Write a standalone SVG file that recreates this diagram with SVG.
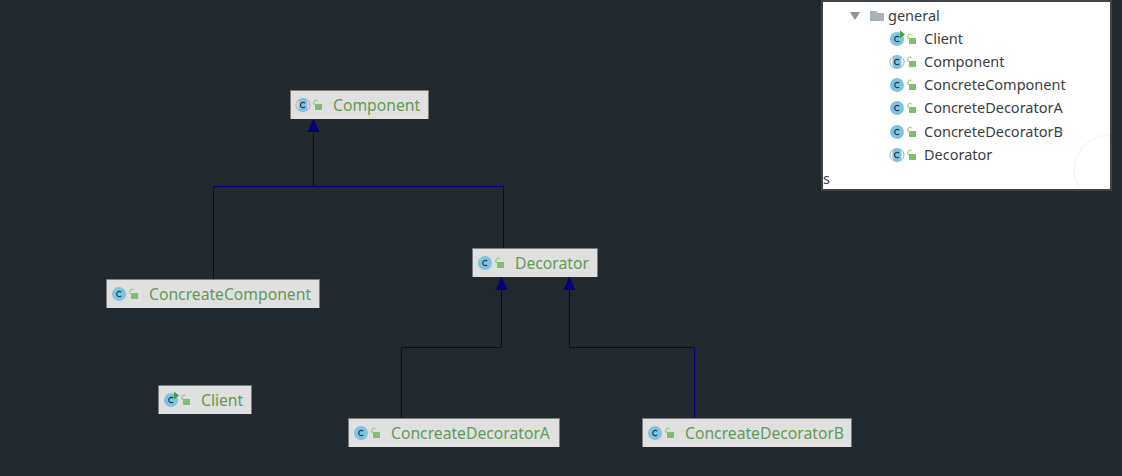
<svg xmlns="http://www.w3.org/2000/svg" width="1122" height="476" viewBox="0 0 1122 476">
<style>
.fillb{fill:#e0e0e0}
.edge{fill:none;stroke:#7b7d7e;stroke-width:1}
.lbl{font-family:"Noto Sans","Open Sans",sans-serif;font-size:15.7px;fill:#649a58}
.tree{font-family:"Noto Sans","Open Sans",sans-serif;font-size:14.5px;fill:#3c4043}
.conn{fill:none;stroke:#00007f;stroke-width:1}
.tip{fill:#00007f}
</style>
<defs>
<g id="ic">
<circle cx="7" cy="7" r="7" fill="#7cc4e2"/>
<path d="M9.200 5.200A2.600 2.600 0 1 0 9.200 8.800" fill="none" stroke="#2b3a44" stroke-width="1.200"/>
<path d="M18 7V3.800a1.900 1.900 0 0 1 3.600-.6" fill="none" stroke="#7fbf70" stroke-width="1"/>
<rect x="19" y="6" width="7" height="6" fill="#7fbf70"/>
</g>
<g id="abs">
<path d="M3 1.500A6.500 6.500 0 0 0 3 12.500M11 1.500A6.500 6.500 0 0 1 11 12.500" fill="none" stroke="#a9b0b4" stroke-width="1"/>
<rect x="2.500" y="0" width="9" height="14" rx="4" fill="#7cc4e2"/>
<path d="M9 5.200A2.600 2.600 0 1 0 9 8.800" fill="none" stroke="#2b3a44" stroke-width="1.200"/>
<path d="M18 7V3.800a1.900 1.900 0 0 1 3.600-.6" fill="none" stroke="#7fbf70" stroke-width="1"/>
<rect x="19" y="6" width="7" height="6" fill="#7fbf70"/>
</g>
<path id="run" d="M10-1.500L15 2.500 10 6.500Z" fill="#3fa63f"/>
</defs>
<rect width="1122" height="476" fill="#21282e"/>
<g id="connectors">
<path class="conn" d="M313.500 132V186.500M213.500 279V186.500H503.500V248"/>
<path class="conn" d="M401.500 418V347.500H501.500V290"/>
<path class="conn" d="M694.500 418V347.500H569.500V290"/>
<path class="tip" d="M313.500 119L307.500 132H319.500Z"/>
<path class="tip" d="M501.500 277L495.500 290H507.500Z"/>
<path class="tip" d="M569.500 277L563.500 290H575.500Z"/>
</g>
<g id="component">
<rect class="fillb" x="290.500" y="90.500" width="138" height="28.500"/>
<path class="edge" d="M290.500 119V90.500H428.500V119"/>
<use href="#abs" x="296" y="98"/>
<text class="lbl" x="333" y="111">Component</text>
</g>
<g id="decorator">
<rect class="fillb" x="472.500" y="248.500" width="125" height="28.500"/>
<path class="edge" d="M472.500 277V248.500H597.500V277"/>
<use href="#ic" x="478" y="256"/>
<text class="lbl" x="515" y="269">Decorator</text>
</g>
<g id="concreate-component">
<rect class="fillb" x="106.500" y="279.500" width="213" height="28.500"/>
<path class="edge" d="M106.500 308V279.500H319.500V308"/>
<use href="#ic" x="112" y="287"/>
<text class="lbl" x="149" y="300">ConcreateComponent</text>
</g>
<g id="client">
<rect class="fillb" x="158.500" y="385.500" width="93" height="28.500"/>
<path class="edge" d="M158.500 414V385.500H251.500V414"/>
<use href="#ic" x="164" y="393"/>
<use href="#run" x="164" y="393"/>
<text class="lbl" x="201" y="406">Client</text>
</g>
<g id="concreate-decorator-a">
<rect class="fillb" x="348.500" y="418.500" width="211" height="28.500"/>
<path class="edge" d="M348.500 447V418.500H559.500V447"/>
<use href="#ic" x="354" y="426"/>
<text class="lbl" x="391" y="439">ConcreateDecoratorA</text>
</g>
<g id="concreate-decorator-b">
<rect class="fillb" x="642.500" y="418.500" width="209" height="28.500"/>
<path class="edge" d="M642.500 447V418.500H851.500V447"/>
<use href="#ic" x="648" y="426"/>
<text class="lbl" x="685" y="439">ConcreateDecoratorB</text>
</g>
<g id="project-tree">
<rect x="821" y="0" width="291" height="191" fill="#3d4347"/>
<rect x="823" y="2" width="287" height="187" fill="#fff"/>
<path d="M1110 135A36 36 0 0 0 1074 170Q1074 180 1080 188" fill="none" stroke="#f8f8f8" stroke-width="2"/>
<path d="M850 12H860L855 20Z" fill="#8d9499"/>
<path d="M870 11H876L878 13H884V21H870Z" fill="#a9b2b8"/>
<text class="tree" x="888" y="21">general</text>
<use href="#ic" x="890" y="32"/><use href="#run" x="890" y="32"/>
<text class="tree" x="924" y="44">Client</text>
<use href="#abs" x="890" y="55"/>
<text class="tree" x="924" y="67">Component</text>
<use href="#ic" x="890" y="78"/>
<text class="tree" x="924" y="90">ConcreteComponent</text>
<use href="#ic" x="890" y="101"/>
<text class="tree" x="924" y="113">ConcreteDecoratorA</text>
<use href="#ic" x="890" y="125"/>
<text class="tree" x="924" y="137">ConcreteDecoratorB</text>
<use href="#abs" x="890" y="148"/>
<text class="tree" x="924" y="160">Decorator</text>
<text class="tree" x="823" y="184">s</text>
</g>
</svg>
